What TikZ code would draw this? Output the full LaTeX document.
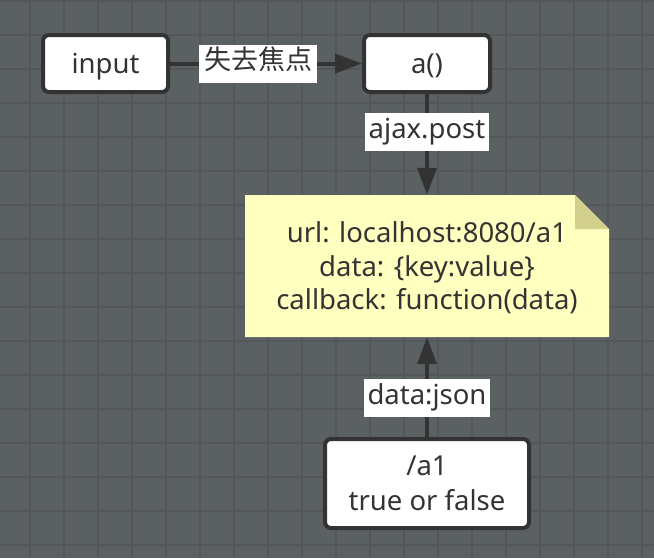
\documentclass[tikz,border=0pt]{standalone}
\usepackage{fontspec}
\setmainfont{Noto Sans}
\newfontfamily\cjkfont{Noto Sans CJK SC}
\usepackage{tikz}
\usetikzlibrary{arrows.meta, positioning}
\definecolor{canvas}{RGB}{91,96,99}
\definecolor{gridline}{RGB}{83,87,90}
\definecolor{ink}{RGB}{51,51,51}
\definecolor{notefill}{RGB}{255,255,192}
\definecolor{notefold}{RGB}{211,208,142}

\tikzset{
  box/.style={draw=ink, line width=4pt, fill=white, rounded corners=6pt, text=ink,
    minimum width=126pt, minimum height=57pt, align=center, text depth=0pt,
    font=\fontsize{27.5}{35}\selectfont},
  notebox/.style={text=ink, minimum width=364pt, minimum height=142pt, align=center,
    text depth=0pt, font=\fontsize{27.5}{33.5}\selectfont,
    path picture={
      \fill[notefill] (path picture bounding box.south west)
        -- (path picture bounding box.north west)
        -- ([xshift=-34pt]path picture bounding box.north east)
        -- ([yshift=-34pt]path picture bounding box.north east)
        -- (path picture bounding box.south east) -- cycle;
      \fill[notefold] ([xshift=-34pt]path picture bounding box.north east)
        -- ([xshift=-34pt,yshift=-34pt]path picture bounding box.north east)
        -- ([yshift=-34pt]path picture bounding box.north east) -- cycle;
    }},
  lbl/.style={fill=white, text=ink, inner xsep=4pt, inner ysep=5pt,
    text height=20pt, text depth=8pt, font=\fontsize{27.5}{30}\selectfont},
  link/.style={draw=ink, line width=4pt, -{Triangle[length=27pt,width=19pt]}},
}

\begin{document}
\begin{tikzpicture}[x=1pt,y=-1pt]
  % canvas and grid
  \fill[canvas] (0,0) rectangle (654,558);
  \useasboundingbox (0,0) rectangle (654,558);
  \foreach \gx in {30,64,...,642}
    \draw[gridline, line width=1.5pt] (\gx,0) -- (\gx,558);
  \foreach \gy in {1,35,...,545}
    \draw[gridline, line width=1.5pt] (0,\gy) -- (654,\gy);

  % nodes
  \node[box, minimum width=125pt] (input) at (105.5,63.5) {input};
  \node[box] (func) at (427,63.5) {a()};
  \node[notebox] (note) at (427,266) {url: localhost:8080/a1\\data: \{key:value\}\\callback: function(data)};
  \node[box, minimum width=204pt, minimum height=89pt] (server) at (427,483.5) {/a1\\true or false};

  % connectors
  \draw[link] (input) -- node[lbl, pos=0.46, inner xsep=5pt, font=\cjkfont\fontsize{27}{30}\selectfont] (blur) {失去焦点} (func);
  \draw[link] (func) -- node[lbl, pos=0.38] (post) {ajax.post} (note);
  \draw[link] (server) -- node[lbl, pos=0.39] (json) {data:json} (note);
\end{tikzpicture}
\end{document}
